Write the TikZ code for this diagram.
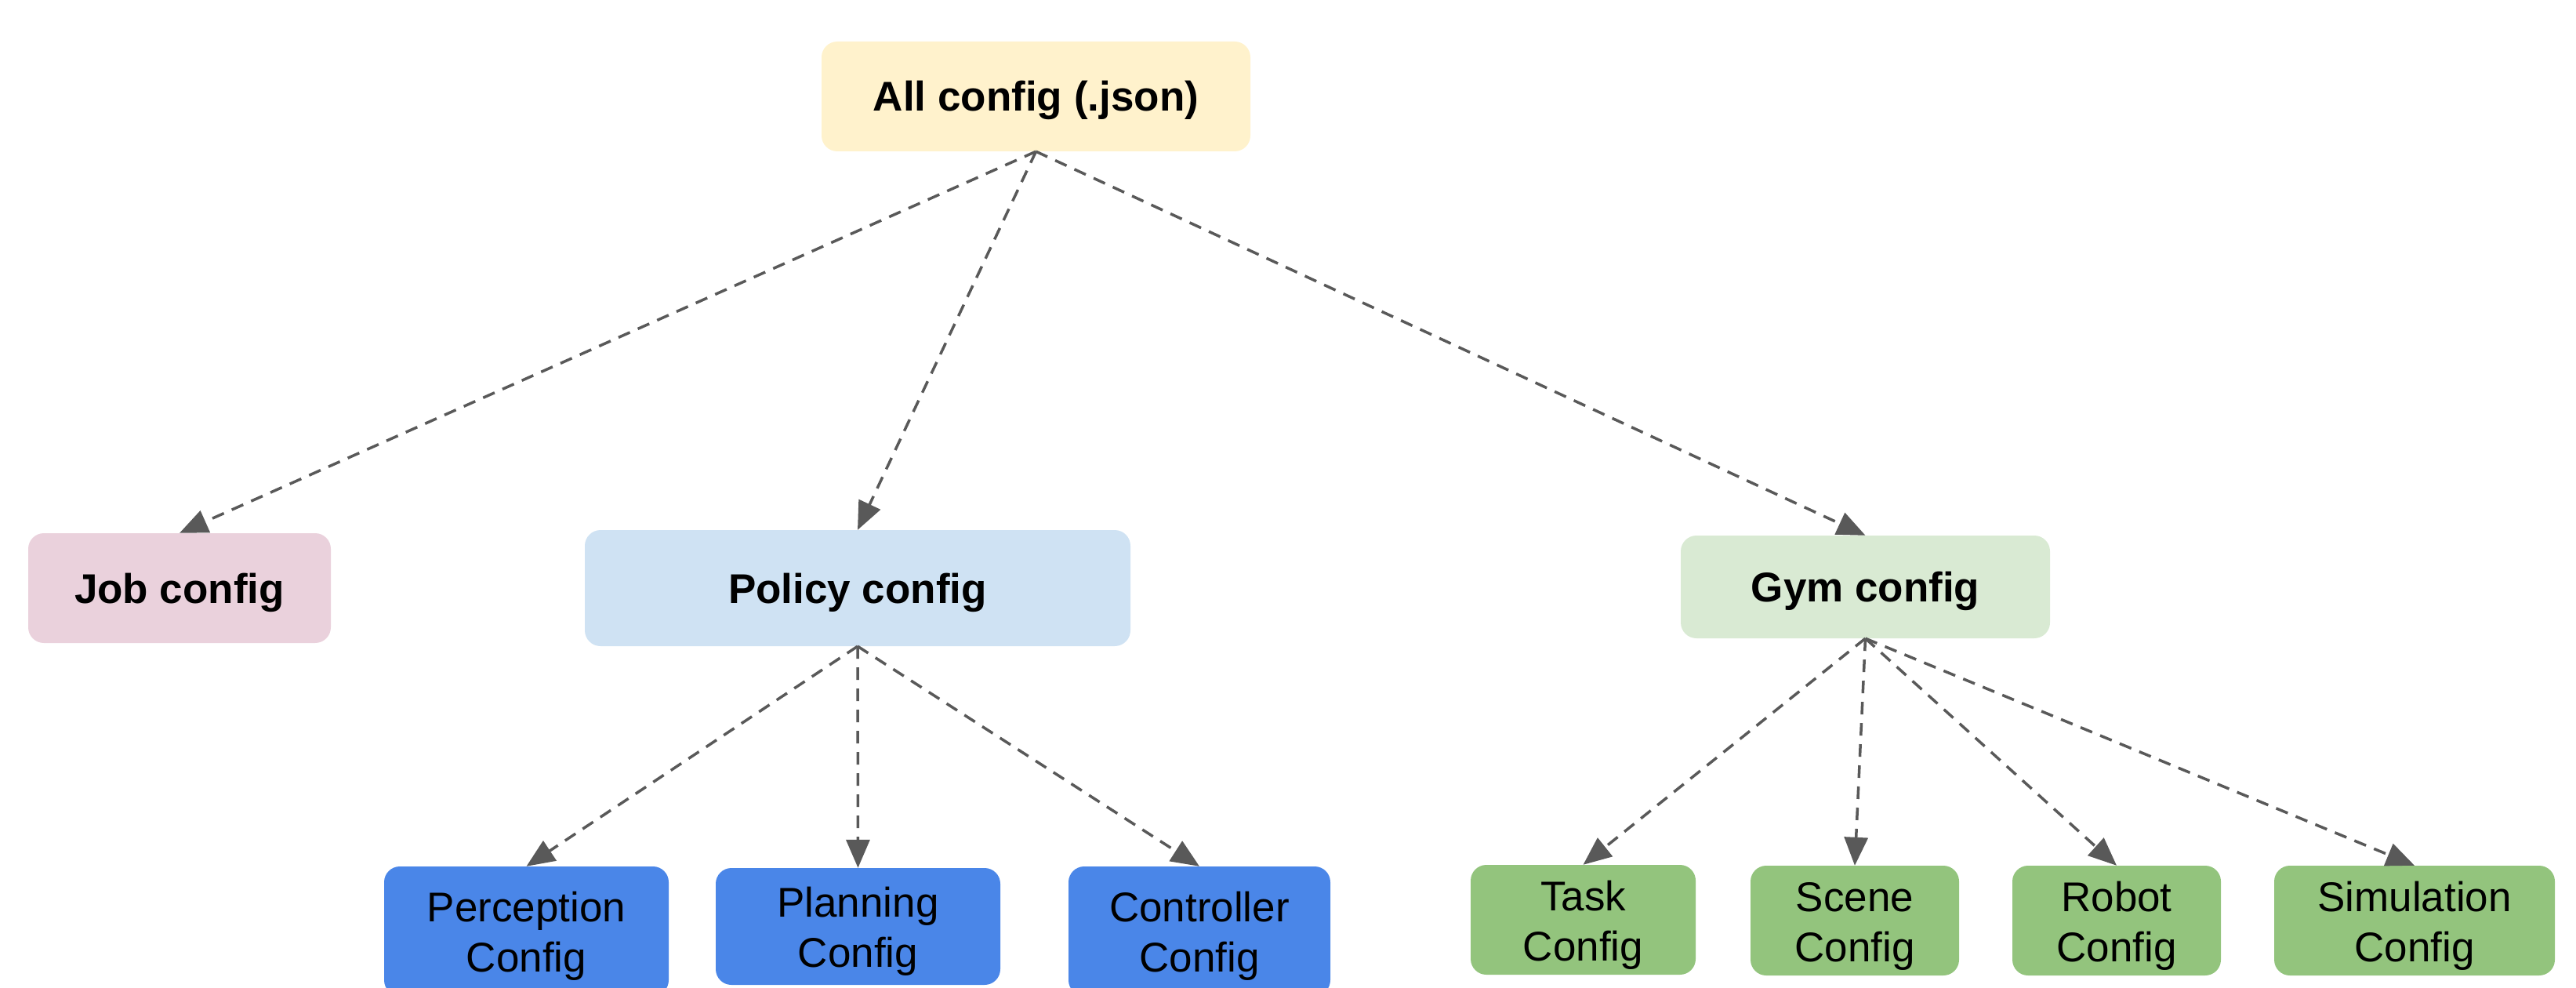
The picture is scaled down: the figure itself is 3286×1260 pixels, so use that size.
\documentclass[tikz,border=0pt]{standalone}
\usepackage{fontspec}
\setmainfont{Liberation Sans}
\usetikzlibrary{arrows.meta}
\definecolor{cyellow}{HTML}{FFF2CC}
\definecolor{cpink}{HTML}{EAD1DC}
\definecolor{clblue}{HTML}{CFE2F3}
\definecolor{clgreen}{HTML}{D9EAD3}
\definecolor{cblue}{HTML}{4A86E8}
\definecolor{cgreen}{HTML}{93C47D}
\definecolor{cline}{HTML}{595959}
\tikzset{
  box/.style={rounded corners=20pt, draw=none, inner sep=0pt, align=center,
    font=\fontsize{53}{64}\selectfont, text height=104pt, text depth=0pt},
  topbox/.style={box, font=\fontsize{53}{64}\selectfont\bfseries, text height=38pt, text depth=0pt},
  link/.style={draw=cline, line width=3.5pt, dash pattern=on 16pt off 11pt,
    -{Triangle[length=36pt,width=30pt]}, shorten >=0pt},
}
\begin{document}
\begin{tikzpicture}[x=1pt,y=-1pt]
\useasboundingbox (0,0) rectangle (3286,1260);
\clip (0,0) rectangle (3286,1260);
% level 0
\node[topbox, fill=cyellow, minimum width=547pt, minimum height=140pt] (all) at (1321.5,123) {All config (.json)};
% level 1
\node[topbox, fill=cpink, minimum width=386pt, minimum height=140pt] (job) at (229,750) {Job config};
\node[topbox, fill=clblue, minimum width=696pt, minimum height=148pt] (policy) at (1094,750) {Policy config};
\node[topbox, fill=clgreen, minimum width=471pt, minimum height=131pt] (gym) at (2379.5,748.5) {Gym config};
% level 2 policy
\node[box, fill=cblue, minimum width=363pt, minimum height=165pt] (perc) at (671.5,1187.5) {Perception\\Config};
\node[box, fill=cblue, minimum width=363pt, minimum height=149pt] (plan) at (1094.5,1181.5) {Planning\\Config};
\node[box, fill=cblue, minimum width=334pt, minimum height=165pt] (ctrl) at (1530,1187.5) {Controller\\Config};
% level 2 gym
\node[box, fill=cgreen, minimum width=287pt, minimum height=140pt] (task) at (2019.5,1173) {Task\\Config};
\node[box, fill=cgreen, minimum width=266pt, minimum height=140pt] (scene) at (2366,1174) {Scene\\Config};
\node[box, fill=cgreen, minimum width=266pt, minimum height=140pt] (robot) at (2700,1174) {Robot\\Config};
\node[box, fill=cgreen, minimum width=358pt, minimum height=140pt] (sim) at (3080,1174) {Simulation\\Config};
% connectors
\draw[link] (all.south) -- (job.north);
\draw[link] (all.south) -- (policy.north);
\draw[link] (all.south) -- (gym.north);
\draw[link] (policy.south) -- (perc.north);
\draw[link] (policy.south) -- (plan.north);
\draw[link] (policy.south) -- (ctrl.north);
\draw[link] (gym.south) -- (task.north);
\draw[link] (gym.south) -- (scene.north);
\draw[link] (gym.south) -- (robot.north);
\draw[link] (gym.south) -- (sim.north);
\end{tikzpicture}
\end{document}
